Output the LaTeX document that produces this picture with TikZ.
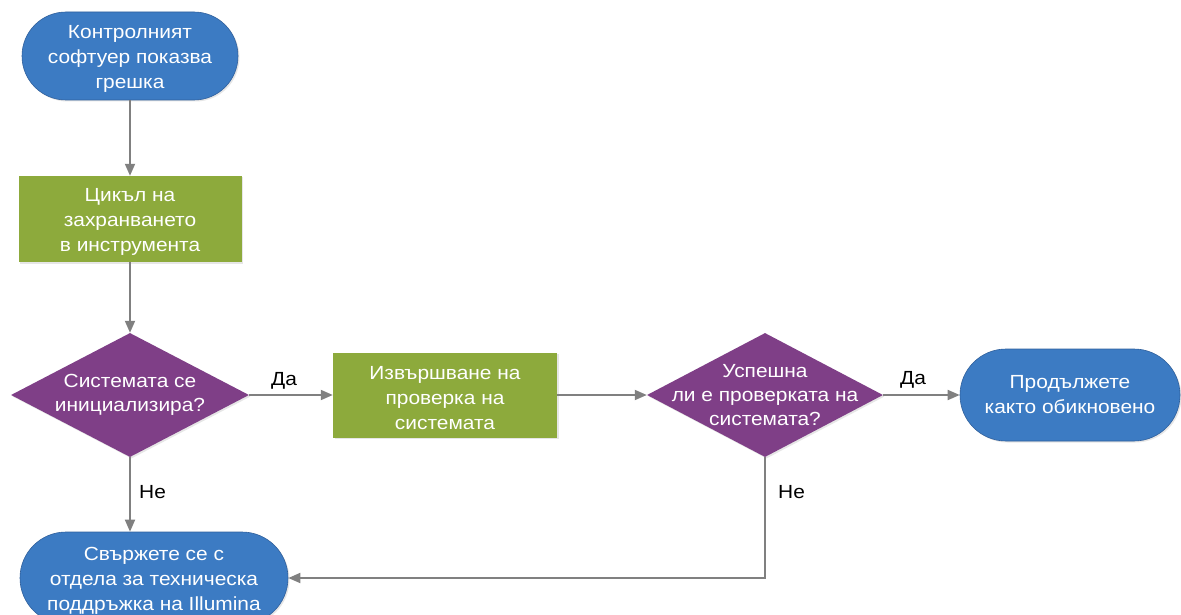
\documentclass[tikz,border=0pt]{standalone}
\usepackage{fontspec}
\setmainfont{Liberation Sans}[FakeStretch=1.1]
\usetikzlibrary{shapes.geometric,arrows.meta,shadows}
\definecolor{tblue}{RGB}{60,123,195}
\definecolor{tbluedark}{RGB}{48,96,156}
\definecolor{tgreen}{RGB}{141,170,60}
\definecolor{tpurple}{RGB}{127,63,135}
\definecolor{tline}{RGB}{128,128,128}
\begin{document}
\begin{tikzpicture}[x=1pt,y=-1pt,
  every node/.style={font=\fontsize{19}{25}\selectfont},
  shad/.style={drop shadow={opacity=0.2,shadow xshift=1.5pt,shadow yshift=-1.5pt}},
  term/.style={draw=tbluedark,line width=0.6pt,fill=tblue,
    rounded corners=44pt,minimum height=90pt,inner sep=0pt,shad},
  procbox/.style={fill=tgreen,inner sep=0pt,shad},
  decis/.style={diamond,fill=tpurple,inner sep=0pt,shad},
  btxt/.style={text=white,align=center,inner sep=0pt,yshift=-3pt},
  dtxt/.style={text=white,align=center,inner sep=0pt,font=\fontsize{19}{24}\selectfont},
  conn/.style={draw=tline,line width=1.8pt,-{Triangle[length=12pt,width=10pt]}},
  lbl/.style={text=black,inner sep=0pt}
]
\useasboundingbox (0,0) rectangle (1181,615);
\node[term,minimum width=216pt,minimum height=88pt] (start) at (130,56) {};
\node[btxt] (startt) at (start) {Контролният\\софтуер показва\\грешка};
\node[procbox,minimum width=223pt,minimum height=86pt] (cycle) at (130,219) {};
\node[btxt] (cyclet) at (cycle) {Цикъл на\\захранването\\в инструмента};
\node[decis,minimum width=238pt,minimum height=124pt] (d1) at (130,395) {};
\node[dtxt] (d1t) at (d1) {Системата се\\инициализира?};
\node[procbox,minimum width=224pt,minimum height=85pt] (check) at (445,395) {};
\node[btxt] (checkt) at (check) {Извършване на\\проверка на\\системата};
\node[decis,minimum width=236pt,minimum height=124pt] (d2) at (765,395) {};
\node[dtxt] (d2t) at (d2) {Успешна\\ли е проверката на\\системата?};
\node[term,minimum width=220pt,minimum height=92pt,rounded corners=46pt] (cont) at (1070,395) {};
\node[btxt,yshift=3pt] (contt) at (cont) {Продължете\\както обикновено};
\node[term,minimum width=268pt,minimum height=92pt,rounded corners=46pt] (support) at (154,578) {};
\node[btxt] (supportt) at (support) {Свържете се с\\отдела за техническа\\поддръжка на Illumina};

\draw[conn] (start) -- (cycle);
\draw[conn] (cycle) -- (d1.north);
\draw[conn] (d1.east) -- (check.west);
\draw[conn] (check.east) -- (d2.west);
\draw[conn] (d2.east) -- (cont.west);
\draw[conn] (d1.south) -- (d1.south |- support.north);
\draw[conn] (d2.south) |- (support.east);

\node[lbl,anchor=west] (yes1) at (271,381) {Да};
\node[lbl,anchor=west] (yes2) at (900,380) {Да};
\node[lbl,anchor=west] (no1) at (139,492) {Не};
\node[lbl,anchor=west] (no2) at (778,492) {Не};
\end{tikzpicture}
\end{document}
